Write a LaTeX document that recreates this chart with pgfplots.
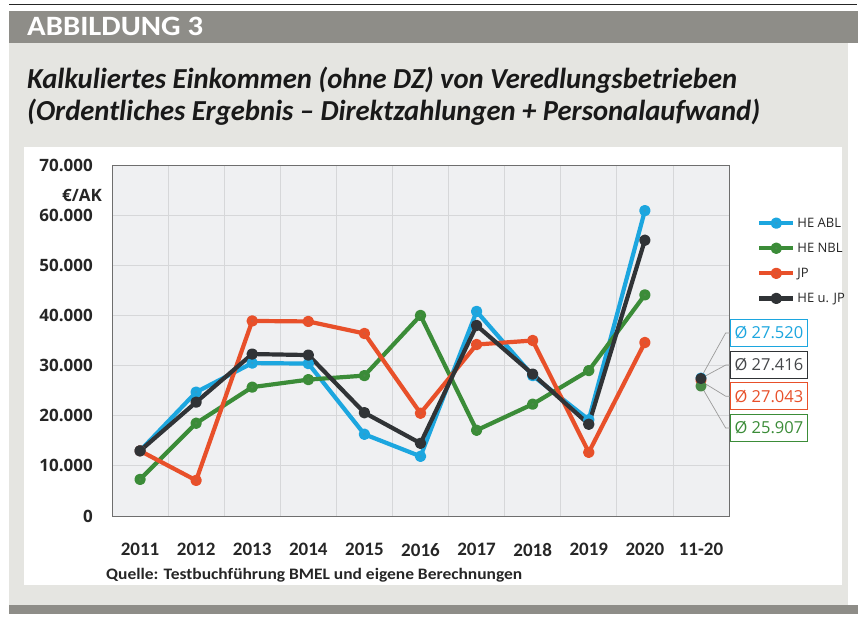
\documentclass[border=0pt]{standalone}
\usepackage{pgfplots}
\pgfplotsset{compat=1.18}
\usepackage{fontspec}
\usepackage{graphicx}
\setmainfont{Carlito}
\newfontfamily\osans{Open Sans}
\definecolor{hdr}{HTML}{8E8D88}
\definecolor{bgl}{HTML}{E5E5E1}
\definecolor{plotbg}{HTML}{EFF0F2}
\definecolor{gridc}{HTML}{D6D7D9}
\definecolor{axc}{HTML}{6E6E6E}
\definecolor{tickc}{HTML}{262626}
\definecolor{cblue}{HTML}{1CA6DF}
\definecolor{cgreen}{HTML}{3B8C38}
\definecolor{cred}{HTML}{E8502A}
\definecolor{cblack}{HTML}{303336}
\definecolor{leadc}{HTML}{9A9A9A}
\pgfplotstableread{
x abl nbl jp hejp
0 13000 7300 13000 13000
1 24700 18500 7100 22700
2 30500 25700 38900 32300
3 30400 27200 38800 32100
4 16300 28000 36400 20600
5 11900 40000 20500 14500
6 40800 17100 34200 38000
7 28000 22300 35000 28300
8 19200 29000 12700 18300
9 60900 44100 34600 55000
}\datatab
\begin{document}
\begin{tikzpicture}
\useasboundingbox (0pt,0pt) rectangle (866pt,622pt);
\fill[white] (0pt,0pt) rectangle (866pt,622pt);
\fill[bgl] (9pt,17pt) rectangle (848pt,579pt);
\fill[hdr] (9pt,579pt) rectangle (858pt,611pt);
\fill[hdr] (9pt,8pt) rectangle (858pt,17pt);
\draw[black!85, line width=1pt] (9pt,617pt) -- (857pt,617pt);
\fill[white] (24pt,37pt) rectangle (842pt,475pt);
\node[anchor=base west, inner sep=0pt, text=white] at (27pt,586pt) {\resizebox{176pt}{\height}{\fontsize{28}{30}\selectfont\bfseries ABBILDUNG 3}};
\node[anchor=base west, inner sep=0pt, text=black!90] at (27pt,533pt) {\resizebox{710pt}{\height}{\fontsize{29}{31}\selectfont\bfseries\itshape Kalkuliertes Einkommen (ohne DZ) von Veredlungsbetrieben}};
\node[anchor=base west, inner sep=0pt, text=black!90] at (27pt,501pt) {\resizebox{733pt}{\height}{\fontsize{29}{31}\selectfont\bfseries\itshape (Ordentliches Ergebnis -- Direktzahlungen + Personalaufwand)}};
\node[anchor=east, inner sep=0pt, text=tickc, font=\osans\bfseries\fontsize{17}{17}\selectfont] at (102pt,427pt) {€/AK};
\node[anchor=west, inner sep=0pt, text=tickc] at (106pt,47pt) {\resizebox{416pt}{\height}{\fontsize{16}{16}\selectfont\bfseries Quelle: Testbuchführung BMEL und eigene Berechnungen}};
\begin{axis}[
  at={(112pt,106pt)}, anchor=south west, scale only axis,
  width=617pt, height=351pt,
  xmin=-0.5, xmax=10.5, ymin=0, ymax=70000,
  xtick={0,1,2,3,4,5,6,7,8,9,10},
  xticklabels={2011,2012,2013,2014,2015,2016,2017,2018,2019,2020,11-20},
  minor xtick={0.5,1.5,2.5,3.5,4.5,5.5,6.5,7.5,8.5,9.5},
  ytick={0,10000,20000,30000,40000,50000,60000,70000},
  scaled y ticks=false,
  yticklabel={\pgfmathprintnumber[fixed,1000 sep={.},assume math mode=true]{\tick}},
  xmajorgrids=false, xminorgrids=true, ymajorgrids=true,
  grid style={draw=gridc, line width=0.8pt},
  minor grid style={draw=gridc, line width=0.8pt},
  major tick length=0pt, minor tick length=0pt,
  axis line style={draw=axc, line width=0.9pt},
  axis background/.style={fill=plotbg},
  yticklabel style={font=\osans\bfseries\fontsize{17}{17}\selectfont, text=tickc, inner sep=0pt, anchor=east, xshift=-19pt},
  xticklabel style={font=\bfseries\fontsize{19}{19}\selectfont, text=tickc, inner sep=0pt, anchor=north, yshift=-27pt},
  clip=false,
  legend style={draw=none, fill=none, at={(1.0454,0.856)}, anchor=north west,
    font=\osans\fontsize{13}{13}\selectfont, text=tickc, row sep=10.3pt, inner sep=0pt,
    /tikz/every even column/.append style={column sep=1pt}},
  legend cell align=left,
  legend image code/.code={\draw[#1, mark repeat=2, mark phase=2] plot coordinates {(0pt,0pt)(17pt,0pt)(34pt,0pt)};},
  every axis plot/.append style={line width=4.2pt, line join=round, mark=*, mark size=3.6pt},
]
\addplot[color=cblue, mark options={fill=cblue!80!gray, draw=none}] table[x=x,y=abl]{\datatab};
\addlegendentry{HE ABL}
\addplot[color=cgreen, mark options={fill=cgreen!80!gray, draw=none}] table[x=x,y=nbl]{\datatab};
\addlegendentry{HE NBL}
\addplot[color=cred, mark options={fill=cred!80!gray, draw=none}] table[x=x,y=jp]{\datatab};
\addlegendentry{JP}
\addplot[color=cblack, mark options={fill=cblack, draw=none}] table[x=x,y=hejp]{\datatab};
\addlegendentry{HE u. JP}
\addplot[forget plot, only marks, mark size=3.4pt, color=cblue] coordinates {(10,27520)};
\addplot[forget plot, only marks, mark size=3.4pt, color=cred] coordinates {(10,27043)};
\addplot[forget plot, only marks, mark size=3.4pt, color=cgreen!80!gray] coordinates {(10,25907)};
\addplot[forget plot, only marks, mark size=3.4pt, color=cblack] coordinates {(10,27416)};
\tikzset{avgbox/.style={fill=white, line width=1pt, inner xsep=4pt, minimum height=27pt, anchor=west, font=\osans\fontsize{16.5}{16.5}\selectfont}}
\draw[leadc, line width=0.7pt] (axis cs:10,27600) -- (axis cs:10.44,36500) -- (axis cs:10.518,36500);
\draw[leadc, line width=0.7pt] (axis cs:10,27450) -- (axis cs:10.44,30100) -- (axis cs:10.518,30100);
\draw[leadc, line width=0.7pt] (axis cs:10,26900) -- (axis cs:10.44,23900) -- (axis cs:10.518,23900);
\draw[leadc, line width=0.7pt] (axis cs:10,26000) -- (axis cs:10.44,17550) -- (axis cs:10.518,17550);
\node[avgbox, draw=cblue, text=cblue] at (axis cs:10.518,36500) {Ø 27.520};
\node[avgbox, draw=cblack, text=cblack!90] at (axis cs:10.518,30100) {Ø 27.416};
\node[avgbox, draw=cred, text=cred] at (axis cs:10.518,23900) {Ø 27.043};
\node[avgbox, draw=cgreen, text=cgreen] at (axis cs:10.518,17550) {Ø 25.907};
\end{axis}
\end{tikzpicture}
\end{document}
